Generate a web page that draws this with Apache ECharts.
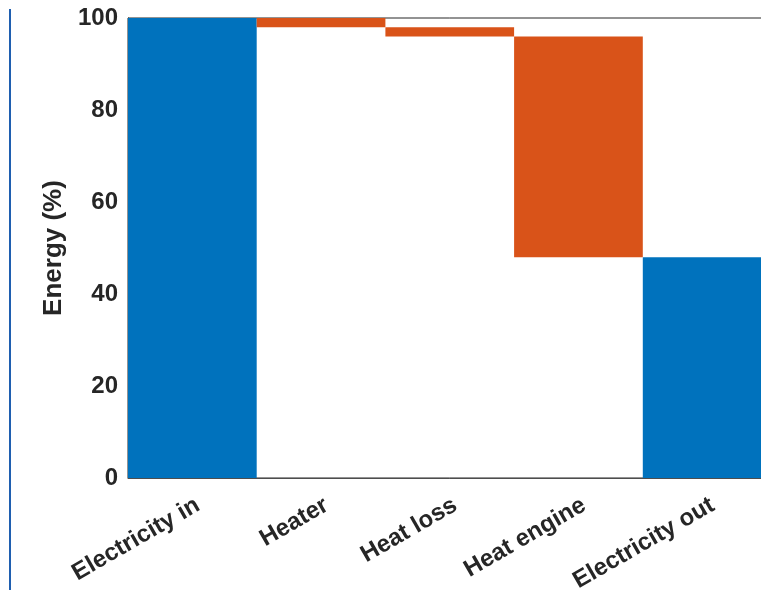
<!DOCTYPE html>
<html><head><meta charset="utf-8">
<script src="https://cdn.jsdelivr.net/npm/echarts@6/dist/echarts.min.js"></script>
<style>html,body{margin:0;padding:0;background:#fff;overflow:hidden}#c{width:772px;height:590px}</style>
</head><body><div id="c"></div>
<script>
const categories = ['Electricity in', 'Heater', 'Heat loss', 'Heat engine', 'Electricity out'];
const values = [100, 2, 2, 48, 48];
const isTotal = [true, false, false, false, true];
const yTicks = [0, 20, 40, 60, 80, 100];

// waterfall bases
const base = [], totals = [], losses = [];
let level = 0;
for (let i = 0; i < values.length; i++) {
  if (isTotal[i]) {
    base.push(0); totals.push(values[i]); losses.push('-');
    level = values[i];
  } else {
    level -= values[i];
    base.push(level); totals.push('-'); losses.push(values[i]);
  }
}

const chart = echarts.init(document.getElementById('c'), null, {renderer: 'canvas'});
const font = 'Liberation Sans, Arial, Helvetica, sans-serif';
chart.setOption({
  animation: false,
  grid: {left: 128, top: 18, width: 643.5, height: 460, outerBoundsMode: 'none', containLabel: false, show: true, borderColor: '#262626', borderWidth: 1, backgroundColor: 'transparent'},
  xAxis: {
    type: 'category', data: categories,
    axisLine: {show: true, lineStyle: {color: '#4d4d4d', width: 1}},
    axisTick: {show: false},
    axisLabel: {
      rotate: 30, margin: 16, interval: 0,
      formatter: v => '{a|' + v + '}',
      rich: {a: {padding: [22, 0, 0, 0], color: '#262626', fontSize: 24, fontWeight: 'bold', fontFamily: font}},
      color: '#262626', fontSize: 24, fontWeight: 'bold', fontFamily: font
    }
  },
  yAxis: {
    type: 'value', min: yTicks[0], max: yTicks[yTicks.length - 1], interval: 20,
    name: 'Energy (%)', nameLocation: 'middle', nameGap: 61, nameMoveOverlap: false,
    nameTextStyle: {color: '#262626', fontSize: 26, fontWeight: 'bold', fontFamily: font},
    axisLine: {show: true, lineStyle: {color: '#262626'}},
    axisTick: {show: false},
    splitLine: {show: false},
    axisLabel: {margin: 10, color: '#262626', fontSize: 24, fontWeight: 'bold', fontFamily: font}
  },
  graphic: [{type: 'rect', left: 9, top: 9, shape: {width: 2, height: 581}, style: {fill: '#1f5fb0'}}],
  series: [
    {type: 'bar', stack: 'w', data: base, barWidth: '100%', itemStyle: {color: 'transparent'}, silent: true},
    {type: 'bar', stack: 'w', data: totals, barWidth: '100%', itemStyle: {color: '#0072BD'}},
    {type: 'bar', stack: 'w', data: losses, barWidth: '100%', itemStyle: {color: '#D95319'}}
  ]
});
</script></body></html>
